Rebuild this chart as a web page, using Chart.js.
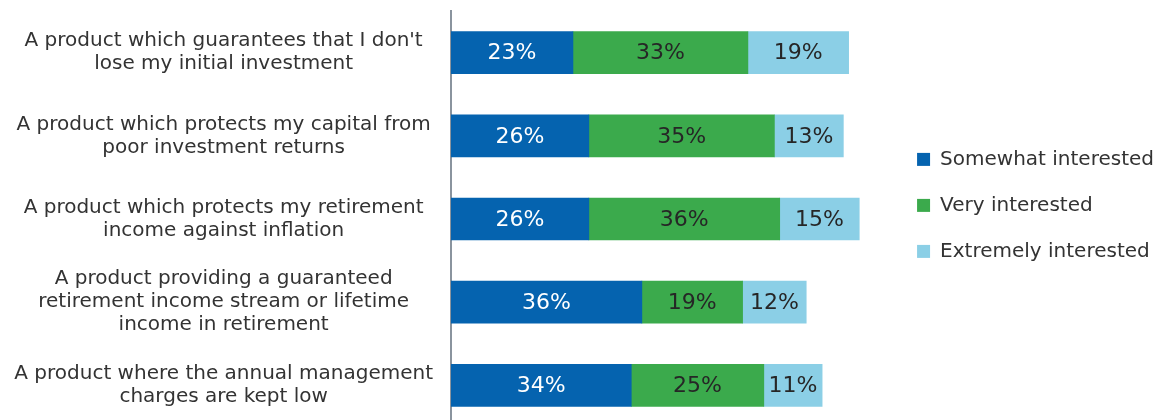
<!DOCTYPE html>
<html>
<head>
<meta charset="utf-8">
<script src="https://cdn.jsdelivr.net/npm/chart.js@4.4.1/dist/chart.umd.min.js"></script>
<style>
  html, body { margin: 0; padding: 0; background: #fff; overflow: hidden; }
  #wrap { position: relative; width: 1157px; height: 437px; }
</style>
</head>
<body>
<div id="wrap"><canvas id="interestChart"></canvas></div>
<script>
const categories = [
    ["A product which guarantees that I don't", "lose my initial investment"],
    ["A product which protects my capital from", "poor investment returns"],
    ["A product which protects my retirement", "income against inflation"],
    ["A product providing a guaranteed", "retirement income stream or lifetime", "income in retirement"],
    ["A product where the annual management", "charges are kept low"]
];
const somewhatInterested = [23, 26, 26, 36, 34];
const veryInterested = [33, 35, 36, 19, 25];
const extremelyInterested = [19, 13, 15, 12, 11];

const seriesNames = ['Somewhat interested', 'Very interested', 'Extremely interested'];
const seriesColors = ['#0563AF', '#3BAA4C', '#8BCFE6'];
const valueColors = ['#ffffff', '#262626', '#262626'];

const FONT = "'DejaVu Sans', Verdana, sans-serif";

// writes the percentage in the middle of every segment
const barLabels = {
    id: 'barLabels',
    afterDatasetsDraw(chart) {
        const ctx = chart.ctx;
        ctx.save();
        ctx.font = `22px ${FONT}`;
        ctx.textAlign = 'center';
        ctx.textBaseline = 'middle';
        chart.data.datasets.forEach((ds, i) => {
            const meta = chart.getDatasetMeta(i);
            ctx.fillStyle = valueColors[i];
            meta.data.forEach((bar, j) => {
                const cx = (bar.x + bar.base) / 2;
                ctx.fillText(ds.data[j] + '%', cx, bar.y + 1);
            });
        });
        ctx.restore();
    }
};

const seriesData = [somewhatInterested, veryInterested, extremelyInterested];

const ctx = document.getElementById('interestChart').getContext('2d');
new Chart(ctx, {
    type: 'bar',
    data: {
        labels: categories,
        datasets: seriesData.map((d, i) => ({
            label: seriesNames[i],
            data: d,
            backgroundColor: seriesColors[i],
            borderWidth: 0,
            barThickness: 42
        }))
    },
    options: {
        indexAxis: 'y',
        responsive: true,
        maintainAspectRatio: false,
        animation: false,
        layout: { padding: { top: 11, bottom: 10, left: 0, right: -7 } },
        plugins: {
            tooltip: { enabled: false },
            legend: {
                position: 'right',
                align: 'start',
                title: { display: true, text: '', padding: { top: 98, bottom: 0 } },
                labels: {
                    font: { family: FONT, size: 20 },
                    color: '#333333',
                    boxWidth: 13,
                    boxHeight: 13,
                    padding: 26
                }
            }
        },
        scales: {
            x: {
                stacked: true,
                display: false,
                min: 0,
                max: 83
            },
            y: {
                stacked: true,
                grid: { display: false, drawTicks: false },
                border: { display: true, color: '#8A949E', width: 2 },
                afterFit: (scale) => {
                    scale.width = 451;
                    scale.paddingTop = 0;
                    scale.paddingBottom = 0;
                },
                ticks: {
                    crossAlign: 'center',
                    padding: 18,
                    color: '#333333',
                    font: { family: FONT, size: 20, lineHeight: 1.15 }
                }
            }
        }
    },
    plugins: [barLabels]
});
</script>
</body>
</html>
